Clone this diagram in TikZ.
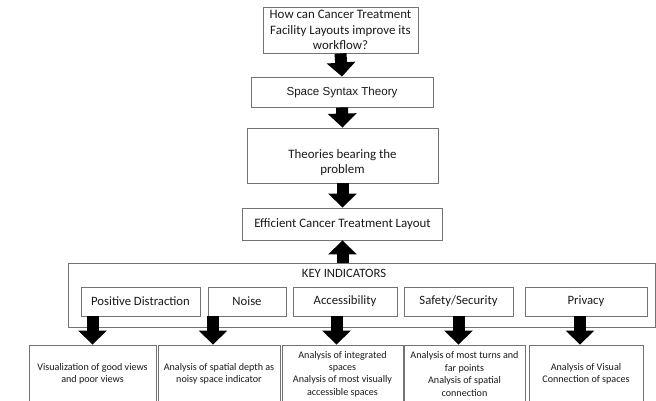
\documentclass[tikz,border=0pt]{standalone}
\usepackage{fontspec}
\setmainfont{Carlito}
\newfontfamily\arialfont{Liberation Sans}
\usetikzlibrary{arrows.meta}
\definecolor{edgegray}{gray}{0.45}
\definecolor{txt}{gray}{0.1}
\tikzset{box/.style = {draw=edgegray, line width=0.9pt, text=txt, align=center,
                       inner sep=0pt},
         bigfont/.style = {font=\fontsize{12.9}{15.5}\selectfont},
         midfont/.style = {font=\fontsize{12.7}{14}\selectfont},
         smallfont/.style = {font=\fontsize{10.1}{12.4}\selectfont},
         blk/.style = {line width=12pt, -{Triangle[length=14pt,width=28pt]}}}
\begin{document}
\begin{tikzpicture}[x=1pt,y=-1pt]
        \useasboundingbox (0,0) rectangle (656,400);
        % question and theory
        \node[box, bigfont, minimum width=155, minimum height=46] (q) at (340.5,30)
          {How can Cancer Treatment\\Facility Layouts improve its\\workflow?};
        \node[box, minimum width=182, minimum height=30,
              font=\arialfont\fontsize{11.6}{14}\selectfont] (sst) at (342,92)
          {Space Syntax Theory};
        \node[box, minimum width=191, minimum height=55,
              label={[bigfont, text=txt, align=center, yshift=-7pt]center:Theories bearing the\\problem}]
          (thb) at (342.5,155.5) {};
        \node[box, bigfont, minimum width=200, minimum height=32] (ect) at (342.5,224)
          {Efficient Cancer Treatment Layout};
        % key indicators
        \node[box, minimum width=587, minimum height=64] (key) at (361.5,295) {};
        \node[midfont, text=txt] (kit) at (344,273) {KEY INDICATORS};
        \node[box, midfont, minimum width=119, minimum height=29] (pd) at (140.5,301.5) {Positive Distraction};
        \node[box, midfont, minimum width=78, minimum height=29] (nz) at (247,301.5) {Noise};
        \node[box, midfont, minimum width=104, minimum height=29] (acc) at (345,301.5) {Accessibility};
        \node[box, midfont, minimum width=109, minimum height=29] (ss) at (458.5,301.5) {Safety/Security};
        \node[box, midfont, minimum width=122, minimum height=29] (prv) at (586,301.5) {Privacy};
        % analyses
        \node[box, smallfont, minimum width=127, minimum height=58] (b1) at (92.5,374)
          {Visualization of good views\\and poor views};
        \node[box, smallfont, minimum width=122, minimum height=58] (b2) at (219,374)
          {Analysis of spatial depth as\\noisy space indicator};
        \node[box, smallfont, minimum width=121, minimum height=58] (b3) at (342.5,374)
          {Analysis of integrated\\spaces\\Analysis of most visually\\accessible spaces};
        \node[box, smallfont, minimum width=121, minimum height=58] (b4) at (464.5,374)
          {Analysis of most turns and\\far points\\Analysis of spatial\\connection};
        \node[box, smallfont, minimum width=114, minimum height=58] (b5) at (586,374)
          {Analysis of Visual\\Connection of spaces};
        % arrows
        \draw[blk] (q.south) -- (sst.north);
        \draw[blk] (sst.south) -- (thb.north);
        \draw[blk] (thb.south) -- (ect.north);
        \draw[blk] (key.north -| ect.south) -- (ect.south);
        \draw[blk] (pd.south -| b1.north) -- (b1.north);
        \draw[blk] ([xshift=-6pt]nz.south -| b2.north) -- ([xshift=-6pt]b2.north);
        \draw[blk] ([xshift=-6pt]acc.south -| b3.north) -- ([xshift=-6pt]b3.north);
        \draw[blk] ([xshift=-6pt]ss.south -| b4.north) -- ([xshift=-6pt]b4.north);
        \draw[blk] ([xshift=-6pt]prv.south -| b5.north) -- ([xshift=-6pt]b5.north);
      \end{tikzpicture}
\end{document}
